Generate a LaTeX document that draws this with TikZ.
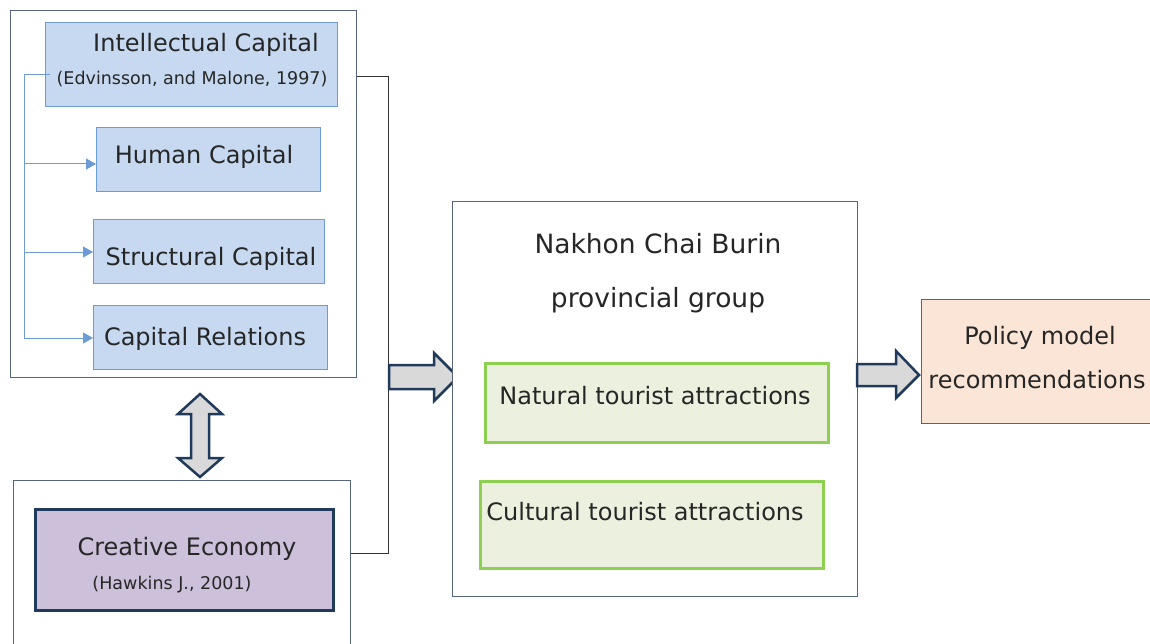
\documentclass[tikz,border=0pt]{standalone}
\usepackage{fontspec}
\setmainfont{DejaVu Sans}
\usetikzlibrary{arrows.meta}
\definecolor{bluefill}{HTML}{C6D9F1}
\definecolor{blueline}{HTML}{6C9BD6}
\definecolor{navy}{HTML}{1F3A5A}
\definecolor{lav}{HTML}{CCC0DA}
\definecolor{greenline}{HTML}{8DCF4F}
\definecolor{greenfill}{HTML}{EBF1DE}
\definecolor{peach}{HTML}{FBE5D6}
\definecolor{boxgray}{HTML}{56657D}
\definecolor{arrowgray}{HTML}{D9D9D9}
\begin{document}
\begin{tikzpicture}[x=1pt,y=-1pt,
  frame/.style={draw=boxgray, line width=1pt, fill=white, anchor=north west, inner sep=0pt},
  bluebox/.style={draw=blueline, line width=1pt, fill=bluefill, anchor=north west, inner sep=0pt},
  greenbox/.style={draw=greenline, line width=2.5pt, fill=greenfill, anchor=north west, inner sep=0pt},
  lab/.style={font=\fontsize{24}{28}\selectfont, text=black!85, inner sep=0pt},
  biglab/.style={font=\fontsize{26.5}{30}\selectfont, text=black!85, inner sep=0pt},
  cite/.style={font=\fontsize{17.5}{21}\selectfont, text=black!85, inner sep=0pt},
  bluearrow/.style={draw=blueline, line width=1pt, -{Triangle[length=10pt,width=11pt]}},
  blockarrow/.style={draw=navy, line width=2.5pt, fill=arrowgray, line join=miter},
  link/.style={draw=black!80, line width=1pt}
]
\useasboundingbox (0,0) rectangle (1150,644);

% left group
\node[frame, minimum width=346, minimum height=367] (icframe) at (10,10) {};
\node[bluebox, minimum width=292, minimum height=84] (ic) at (45,22) {};
\node[lab] (ict) at (206,45) {Intellectual Capital};
\node[cite] (icc) at (192,79) {(Edvinsson, and Malone, 1997)};
\node[bluebox, minimum width=224, minimum height=64] (hc) at (96,127) {};
\node[lab] (hct) at (204,157) {Human Capital};
\node[bluebox, minimum width=231, minimum height=64] (sc) at (93,219) {};
\node[lab] (sct) at (211,259) {Structural Capital};
\node[bluebox, minimum width=234, minimum height=64] (cr) at (93,305) {};
\node[lab] (crt) at (205,339) {Capital Relations};

\coordinate (b0) at (24,75);
\coordinate (b1) at (24,164);
\coordinate (b2) at (24,252);
\coordinate (b3) at (24,338);
\draw[blueline, line width=1pt] (50,75) -- (b0) -- (b3);
\draw[bluearrow] (b1) -- (hc.west |- b1);
\draw[bluearrow] (b2) -- (sc.west |- b2);
\draw[bluearrow] (b3) -- (cr.west |- b3);

% creative economy
\node[frame, minimum width=337, minimum height=180] (ceframe) at (13,480) {};
\node[draw=navy, line width=3pt, fill=lav, anchor=north west, minimum width=298, minimum height=101, inner sep=0pt] (ce) at (34,508) {};
\node[lab] (cet) at (187,549) {Creative Economy};
\node[cite] (cec) at (172,585) {(Hawkins J., 2001)};

% double arrow
\draw[blockarrow] (200,394) -- (222,414) -- (209,414) -- (209,458) -- (222,458) -- (200,477)
  -- (178,458) -- (191,458) -- (191,414) -- (178,414) -- cycle;

% connector lines
\coordinate (j1) at (388,77);
\coordinate (j2) at (388,553);
\draw[link] (icframe.east |- j1) -- (j1) -- (j2) -- (ceframe.east |- j2);

% arrow to centre
\draw[blockarrow] (389,365) -- (434,365) -- (434,353) -- (458,377) -- (434,401) -- (434,389) -- (389,389) -- cycle;

% centre group
\node[frame, minimum width=405, minimum height=395] (nk) at (452,201) {};
\node[biglab] (nk1) at (658,244) {Nakhon Chai Burin};
\node[biglab] (nk2) at (658,300) {provincial group};
\node[greenbox, minimum width=343, minimum height=79] (nat) at (484,362) {};
\node[lab] (natt) at (655,396) {Natural tourist attractions};
\node[greenbox, minimum width=343, minimum height=87] (cul) at (479,480) {};
\node[lab] (cult) at (645,512) {Cultural tourist attractions};

% arrow to policy
\draw[blockarrow] (857,364) -- (896,364) -- (896,351) -- (919,375) -- (896,398) -- (896,386) -- (857,386) -- cycle;

% policy
\node[draw=boxgray, line width=1pt, fill=peach, anchor=north west, minimum width=240, minimum height=124, inner sep=0pt] (pol) at (921,299) {};
\node[lab] (pol1) at (1040,338) {Policy model};
\node[lab] (pol2) at (1037,380) {recommendations};
\end{tikzpicture}
\end{document}
